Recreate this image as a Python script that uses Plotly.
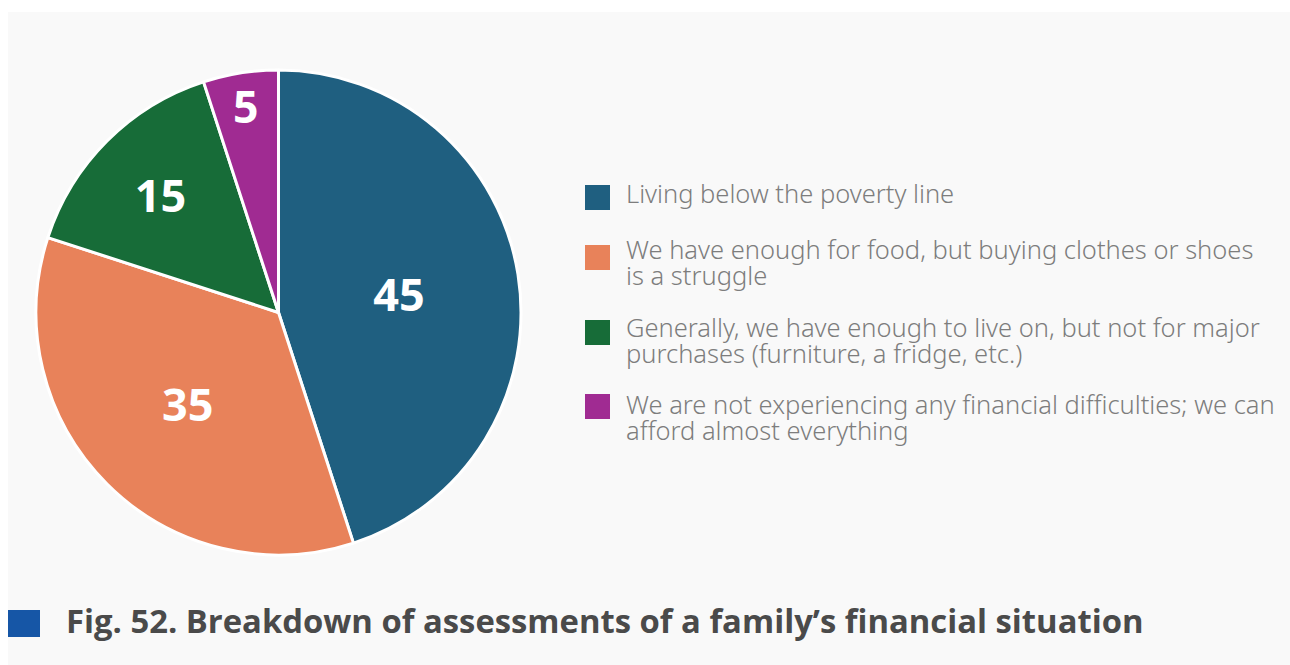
import plotly.graph_objects as go

# ---------------------------- Data ---------------------------- #

labels = [
    "Living below the poverty line",
    "We have enough for food, but buying clothes or shoes<br>is a struggle",
    "Generally, we have enough to live on, but not for major<br>purchases (furniture, a fridge, etc.)",
    "We are not experiencing any financial difficulties; we can<br>afford almost everything",
]
values = [45, 35, 15, 5]
colors = ["#1f5f80", "#e8825a", "#176c38", "#a02b92"]
title_text = "Fig. 52. Breakdown of assessments of a family’s financial situation"

# ---------------------------- Layout constants ---------------------------- #

W, H = 1290, 665
legend_tops = [185, 245, 320, 394]   # px from top, legend square top edge
text_first = [193, 249, 327, 404]    # px from top, first text line centre
SQ = 25                              # legend square size, px
SQ_X = 585
TEXT_X = 625
LINE_H = 26


def px_x(x):
    return x / W


def px_y(y):
    return 1 - y / H


fig = go.Figure()

fig.add_trace(go.Pie(
    labels=labels,
    values=values,
    sort=False,
    direction="clockwise",
    rotation=0,
    marker=dict(colors=colors, line=dict(color="white", width=3)),
    textinfo="value",
    textposition="inside",
    insidetextorientation="horizontal",
    textfont=dict(family="Open Sans", size=45, color="white", weight=700),
    domain=dict(x=[px_x(36), px_x(521)], y=[px_y(555), px_y(70)]),
    showlegend=False,
    hoverinfo="label+value",
))

shapes = [
    # light grey panel
    dict(type="rect", xref="paper", yref="paper",
         x0=px_x(8), x1=1, y0=0, y1=px_y(12),
         fillcolor="#f9f9f9", line=dict(width=0), layer="below"),
    # blue marker before the caption
    dict(type="rect", xref="paper", yref="paper",
         x0=px_x(8), x1=px_x(40), y0=px_y(637), y1=px_y(610),
         fillcolor="#1656a6", line=dict(width=0)),
]
annotations = []

# hand-built legend (large squares like the original)
for lab, col, top, t0 in zip(labels, colors, legend_tops, text_first):
    shapes.append(dict(type="rect", xref="paper", yref="paper",
                       x0=px_x(SQ_X), x1=px_x(SQ_X + SQ),
                       y0=px_y(top + SQ), y1=px_y(top),
                       fillcolor=col, line=dict(width=0)))
    for i, line in enumerate(lab.split("<br>")):
        annotations.append(dict(
            xref="paper", yref="paper",
            x=px_x(TEXT_X), y=px_y(t0 + i * LINE_H),
            xanchor="left", yanchor="middle", align="left", showarrow=False,
            text=line, borderpad=0,
            font=dict(family="Noto Sans", size=25.5, color="#7d7d7d", weight=300),
        ))

fig.update_layout(
    width=W,
    height=H,
    margin=dict(l=0, r=0, t=0, b=0),
    paper_bgcolor="white",
    plot_bgcolor="white",
    shapes=shapes,
    annotations=annotations,
    title=dict(
        text=f"<b>{title_text}</b>",
        x=px_x(66), xanchor="left",
        y=px_y(622), yanchor="middle",
        font=dict(family="Open Sans", size=32.8, color="#4a4a4a"),
    ),
)

# drop the page's default 8px body margin so the figure fills the window
fig.write_html(
    "out.html",
    config={"displayModeBar": False},
    post_script="document.body.style.margin = '0';",
)
